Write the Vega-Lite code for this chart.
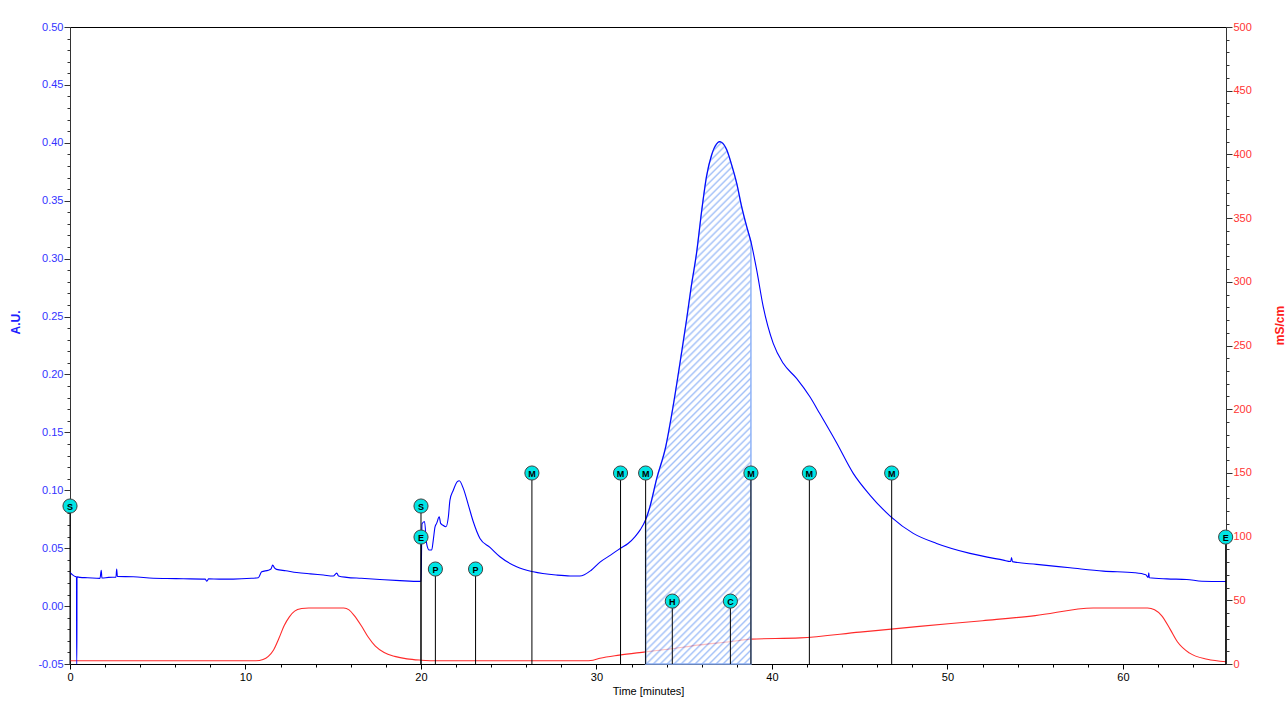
{
  "$schema": "https://vega.github.io/schema/vega-lite/v6.json",
  "width": 1156,
  "height": 637,
  "autosize": {"type": "none"},
  "padding": {"left": 70, "top": 27, "right": 59, "bottom": 40},
  "background": "#ffffff",
  "config": {"view": {"stroke": "#000000", "strokeWidth": 1}, "font": "Liberation Sans"},
  "datasets": {
    "blue": [
      {"t":0,"v":0.029},{"t":0.15,"v":0.027},{"t":0.3,"v":0.0255},{"t":0.37,"v":0.0253},{"t":0.38,"v":-0.05},{"t":0.39,"v":-0.05},{"t":0.4,"v":0.0252},
      {"t":0.57,"v":0.0248},{"t":1.0,"v":0.0245},{"t":1.71,"v":0.0239},{"t":1.78,"v":0.031},{"t":1.82,"v":0.0242},{"t":2.2,"v":0.0248},{"t":2.62,"v":0.025},
      {"t":2.66,"v":0.032},{"t":2.7,"v":0.0255},{"t":3.6,"v":0.0253},{"t":4.75,"v":0.024},{"t":5.5,"v":0.0238},{"t":6.46,"v":0.0236},{"t":7.7,"v":0.0233},
      {"t":7.8,"v":0.0215},{"t":7.9,"v":0.0235},{"t":8.5,"v":0.0233},{"t":9.3,"v":0.0233},{"t":10.35,"v":0.024},{"t":10.73,"v":0.0245},{"t":10.92,"v":0.0296},
      {"t":11.3,"v":0.031},{"t":11.45,"v":0.032},{"t":11.55,"v":0.0354},{"t":11.65,"v":0.033},{"t":11.77,"v":0.0317},{"t":12.3,"v":0.0305},{"t":12.92,"v":0.029},
      {"t":13.7,"v":0.0278},{"t":14.44,"v":0.0268},{"t":15.0,"v":0.026},{"t":15.2,"v":0.0285},{"t":15.3,"v":0.026},{"t":15.77,"v":0.0248},{"t":16.6,"v":0.024},
      {"t":17.66,"v":0.023},{"t":18.8,"v":0.022},{"t":19.94,"v":0.0213},{"t":20.0,"v":0.0214},{"t":20.06,"v":0.071},{"t":20.2,"v":0.073},{"t":20.32,"v":0.054},
      {"t":20.47,"v":0.0484},{"t":20.61,"v":0.0484},{"t":20.7,"v":0.057},{"t":20.8,"v":0.0685},{"t":20.89,"v":0.0714},{"t":21.04,"v":0.0771},{"t":21.12,"v":0.0714},
      {"t":21.23,"v":0.07},{"t":21.42,"v":0.0685},{"t":21.56,"v":0.0771},{"t":21.65,"v":0.0915},{"t":21.84,"v":0.1},{"t":22.07,"v":0.1074},{"t":22.18,"v":0.1082},
      {"t":22.41,"v":0.1016},{"t":22.7,"v":0.0872},{"t":22.98,"v":0.0728},{"t":23.36,"v":0.0584},{"t":23.93,"v":0.0507},{"t":24.5,"v":0.0426},{"t":25.45,"v":0.034},
      {"t":26.4,"v":0.0296},{"t":27.7,"v":0.0268},{"t":28.5,"v":0.026},{"t":29.05,"v":0.026},{"t":29.7,"v":0.031},{"t":30.2,"v":0.038},{"t":30.8,"v":0.044},
      {"t":31.37,"v":0.05},{"t":31.8,"v":0.054},{"t":32.2,"v":0.06},{"t":32.5,"v":0.066},{"t":32.8,"v":0.0745},{"t":33.05,"v":0.086},{"t":33.43,"v":0.11},
      {"t":33.95,"v":0.138},{"t":34.36,"v":0.172},{"t":34.84,"v":0.218},{"t":35.13,"v":0.247},{"t":35.4,"v":0.276},{"t":35.7,"v":0.3046},{"t":36.0,"v":0.342},
      {"t":36.27,"v":0.371},{"t":36.56,"v":0.3895},{"t":36.84,"v":0.399},{"t":37.0,"v":0.401},{"t":37.13,"v":0.4004},{"t":37.42,"v":0.394},{"t":37.7,"v":0.381},
      {"t":37.99,"v":0.365},{"t":38.27,"v":0.345},{"t":38.56,"v":0.3276},{"t":38.8,"v":0.3146},{"t":39.13,"v":0.29},{"t":39.5,"v":0.2585},{"t":40.07,"v":0.2268},
      {"t":40.64,"v":0.2096},{"t":41.4,"v":0.1966},{"t":42.16,"v":0.1807},{"t":42.73,"v":0.166},{"t":43.68,"v":0.141},{"t":44.63,"v":0.1146},{"t":45.58,"v":0.0959},
      {"t":46.78,"v":0.0771},{"t":48.05,"v":0.0628},{"t":49.38,"v":0.0541},{"t":51.28,"v":0.0455},{"t":53.18,"v":0.0397},{"t":53.6,"v":0.0385},{"t":53.65,"v":0.042},
      {"t":53.7,"v":0.0384},{"t":55.08,"v":0.036},{"t":56.98,"v":0.0331},{"t":58.88,"v":0.0302},{"t":60.68,"v":0.0288},{"t":61.3,"v":0.027},{"t":61.44,"v":0.0248},
      {"t":61.47,"v":0.0288},{"t":61.5,"v":0.0245},{"t":62.5,"v":0.0235},{"t":63.63,"v":0.023},{"t":64.5,"v":0.0215},{"t":65.87,"v":0.0212}
    ],
    "red": [
      {"t":0,"c":2.5},{"t":10.6,"c":2.5},{"t":11.0,"c":3.5},{"t":11.3,"c":6},{"t":11.6,"c":11},{"t":11.9,"c":20},{"t":12.2,"c":30},{"t":12.5,"c":37},{"t":12.8,"c":41.5},
      {"t":13.2,"c":43.5},{"t":13.6,"c":44},{"t":15.6,"c":44},{"t":15.9,"c":42.5},{"t":16.2,"c":38},{"t":16.6,"c":30},{"t":17.0,"c":21},{"t":17.4,"c":14},{"t":17.9,"c":9},
      {"t":18.5,"c":6},{"t":19.2,"c":4},{"t":20,"c":3},{"t":21,"c":2.5},{"t":29.3,"c":2.5},{"t":29.8,"c":3},{"t":30.2,"c":4.5},{"t":31.3,"c":7},{"t":32.8,"c":9.5},
      {"t":34.3,"c":12},{"t":35.9,"c":15},{"t":37.6,"c":17.5},{"t":38.8,"c":19.5},{"t":41.6,"c":20.5},{"t":45,"c":25},{"t":48.4,"c":29.5},{"t":52,"c":34},{"t":55,"c":38},
      {"t":58.3,"c":44},{"t":61.4,"c":44},{"t":61.8,"c":42.5},{"t":62.2,"c":38},{"t":62.7,"c":27},{"t":63.1,"c":17.5},{"t":63.8,"c":8.5},{"t":64.8,"c":3.7},{"t":65.87,"c":1.8}
    ],
    "marks": [
      {"t":0,"v":0.0864,"lab":"S"},{"t":20.0,"v":0.0864,"lab":"S"},{"t":20.0,"v":0.0596,"lab":"E"},{"t":20.82,"v":0.032,"lab":"P"},{"t":23.11,"v":0.032,"lab":"P"},
      {"t":26.32,"v":0.1149,"lab":"M"},{"t":31.37,"v":0.1149,"lab":"M"},{"t":32.8,"v":0.1149,"lab":"M"},{"t":38.8,"v":0.1149,"lab":"M"},{"t":42.13,"v":0.1149,"lab":"M"},
      {"t":46.82,"v":0.1149,"lab":"M"},{"t":34.32,"v":0.0043,"lab":"H"},{"t":37.63,"v":0.0043,"lab":"C"},{"t":65.85,"v":0.0596,"lab":"E"}
    ]
  },
  "encoding": {
    "x": {
      "field": "t", "type": "quantitative",
      "scale": {"domain": [0, 65.87], "nice": false, "zero": false},
      "axis": {
        "values": [0,2,4,6,8,10,12,14,16,18,20,22,24,26,28,30,32,34,36,38,40,42,44,46,48,50,52,54,56,58,60,62,64],
        "labelExpr": "datum.value % 10 == 0 ? format(datum.value, 'd') : ''",
        "tickSize": {"condition": {"test": "datum.value % 10 == 0", "value": 5}, "value": 3},
        "grid": false, "domainColor": "#000000", "tickColor": "#000000", "labelColor": "#000000",
        "labelFont": "Liberation Sans", "labelFontSize": 11, "labelPadding": 2, "labelOverlap": false, "labelFlush": false,
        "title": "Time [minutes]", "titleFont": "Liberation Sans", "titleFontSize": 11, "titleFontWeight": "normal", "titleColor": "#000000", "titlePadding": 3
      }
    }
  },
  "layer": [
    {
      "data": {"name": "red"},
      "mark": {"type": "line", "color": "#ff2a2a", "strokeWidth": 1.1, "interpolate": "monotone"},
      "encoding": {
        "y": {
          "field": "c", "type": "quantitative",
          "scale": {"domain": [0, 500], "nice": false, "zero": false},
          "axis": {
            "orient": "right",
            "values": [0,10,20,30,40,50,60,70,80,90,100,110,120,130,140,150,160,170,180,190,200,210,220,230,240,250,260,270,280,290,300,310,320,330,340,350,360,370,380,390,400,410,420,430,440,450,460,470,480,490,500],
            "labelExpr": "datum.value % 50 == 0 ? format(datum.value, 'd') : ''",
            "tickSize": {"condition": {"test": "datum.value % 50 == 0", "value": 6}, "value": 3},
            "grid": false, "domainColor": "#333333", "tickColor": "#333333", "labelColor": "#ff3333",
            "labelFont": "Liberation Sans", "labelFontSize": 11, "labelPadding": 1, "labelOverlap": false, "labelFlush": false,
            "title": "mS/cm", "titleColor": "#ff2020", "titleFont": "Liberation Sans", "titleFontSize": 12, "titleFontWeight": "bold",
            "titleAngle": 270, "titleX": 53, "titleY": 298, "titleAlign": "center", "titleBaseline": "middle"
          }
        }
      }
    },
    {
      "encoding": {
        "y": {
          "field": "v", "type": "quantitative",
          "scale": {"domain": [-0.05, 0.5], "nice": false, "zero": false},
          "axis": {
            "orient": "left",
            "values": [-0.05,-0.04,-0.03,-0.02,-0.01,0,0.01,0.02,0.03,0.04,0.05,0.06,0.07,0.08,0.09,0.1,0.11,0.12,0.13,0.14,0.15,0.16,0.17,0.18,0.19,0.2,0.21,0.22,0.23,0.24,0.25,0.26,0.27,0.28,0.29,0.3,0.31,0.32,0.33,0.34,0.35,0.36,0.37,0.38,0.39,0.4,0.41,0.42,0.43,0.44,0.45,0.46,0.47,0.48,0.49,0.5],
            "labelExpr": "abs(round(datum.value*100)) % 5 == 0 ? (datum.value < 0 ? '-' : '') + format(abs(datum.value), '.2f') : ''",
            "tickSize": {"condition": {"test": "abs(round(datum.value*100)) % 5 == 0", "value": 6}, "value": 3},
            "grid": false, "domainColor": "#333333", "tickColor": "#333333", "labelColor": "#3333ff",
            "labelFont": "Liberation Sans", "labelFontSize": 11, "labelPadding": 1, "labelOverlap": false, "labelFlush": false,
            "title": "A.U.", "titleColor": "#2020ff", "titleFont": "Liberation Sans", "titleFontSize": 12, "titleFontWeight": "bold",
            "titleAngle": 270, "titleX": -55, "titleY": 295, "titleAlign": "center", "titleBaseline": "middle"
          }
        }
      },
      "layer": [
        {
          "data": {"name": "blue"},
          "transform": [{"filter": "datum.t >= 32.8 && datum.t <= 38.8"}],
          "mark": {
            "type": "area", "interpolate": "monotone", "stroke": "#8fb3f7", "strokeWidth": 1.5, "fillOpacity": 0.7,
            "fill": {
              "gradient": "linear", "x1": 0, "y1": 0, "x2": 0.2587, "y2": 1.283,
              "stops": [
                {"offset":0,"color":"#7fa8f5"},{"offset":0.003,"color":"#ffffff"},{"offset":0.007,"color":"#ffffff"},
                {"offset":0.01,"color":"#7fa8f5"},{"offset":0.013,"color":"#ffffff"},{"offset":0.017,"color":"#ffffff"},
                {"offset":0.02,"color":"#7fa8f5"},{"offset":0.023,"color":"#ffffff"},{"offset":0.027,"color":"#ffffff"},
                {"offset":0.03,"color":"#7fa8f5"},{"offset":0.033,"color":"#ffffff"},{"offset":0.037,"color":"#ffffff"},
                {"offset":0.04,"color":"#7fa8f5"},{"offset":0.043,"color":"#ffffff"},{"offset":0.047,"color":"#ffffff"},
                {"offset":0.05,"color":"#7fa8f5"},{"offset":0.053,"color":"#ffffff"},{"offset":0.057,"color":"#ffffff"},
                {"offset":0.06,"color":"#7fa8f5"},{"offset":0.063,"color":"#ffffff"},{"offset":0.067,"color":"#ffffff"},
                {"offset":0.07,"color":"#7fa8f5"},{"offset":0.073,"color":"#ffffff"},{"offset":0.077,"color":"#ffffff"},
                {"offset":0.08,"color":"#7fa8f5"},{"offset":0.083,"color":"#ffffff"},{"offset":0.087,"color":"#ffffff"},
                {"offset":0.09,"color":"#7fa8f5"},{"offset":0.093,"color":"#ffffff"},{"offset":0.097,"color":"#ffffff"},
                {"offset":0.1,"color":"#7fa8f5"},{"offset":0.103,"color":"#ffffff"},{"offset":0.107,"color":"#ffffff"},
                {"offset":0.11,"color":"#7fa8f5"},{"offset":0.113,"color":"#ffffff"},{"offset":0.117,"color":"#ffffff"},
                {"offset":0.12,"color":"#7fa8f5"},{"offset":0.123,"color":"#ffffff"},{"offset":0.127,"color":"#ffffff"},
                {"offset":0.13,"color":"#7fa8f5"},{"offset":0.133,"color":"#ffffff"},{"offset":0.137,"color":"#ffffff"},
                {"offset":0.14,"color":"#7fa8f5"},{"offset":0.143,"color":"#ffffff"},{"offset":0.147,"color":"#ffffff"},
                {"offset":0.15,"color":"#7fa8f5"},{"offset":0.153,"color":"#ffffff"},{"offset":0.157,"color":"#ffffff"},
                {"offset":0.16,"color":"#7fa8f5"},{"offset":0.163,"color":"#ffffff"},{"offset":0.167,"color":"#ffffff"},
                {"offset":0.17,"color":"#7fa8f5"},{"offset":0.173,"color":"#ffffff"},{"offset":0.177,"color":"#ffffff"},
                {"offset":0.18,"color":"#7fa8f5"},{"offset":0.183,"color":"#ffffff"},{"offset":0.187,"color":"#ffffff"},
                {"offset":0.19,"color":"#7fa8f5"},{"offset":0.193,"color":"#ffffff"},{"offset":0.197,"color":"#ffffff"},
                {"offset":0.2,"color":"#7fa8f5"},{"offset":0.203,"color":"#ffffff"},{"offset":0.207,"color":"#ffffff"},
                {"offset":0.21,"color":"#7fa8f5"},{"offset":0.213,"color":"#ffffff"},{"offset":0.217,"color":"#ffffff"},
                {"offset":0.22,"color":"#7fa8f5"},{"offset":0.223,"color":"#ffffff"},{"offset":0.227,"color":"#ffffff"},
                {"offset":0.23,"color":"#7fa8f5"},{"offset":0.233,"color":"#ffffff"},{"offset":0.237,"color":"#ffffff"},
                {"offset":0.24,"color":"#7fa8f5"},{"offset":0.243,"color":"#ffffff"},{"offset":0.247,"color":"#ffffff"},
                {"offset":0.25,"color":"#7fa8f5"},{"offset":0.253,"color":"#ffffff"},{"offset":0.257,"color":"#ffffff"},
                {"offset":0.26,"color":"#7fa8f5"},{"offset":0.263,"color":"#ffffff"},{"offset":0.267,"color":"#ffffff"},
                {"offset":0.27,"color":"#7fa8f5"},{"offset":0.273,"color":"#ffffff"},{"offset":0.277,"color":"#ffffff"},
                {"offset":0.28,"color":"#7fa8f5"},{"offset":0.283,"color":"#ffffff"},{"offset":0.287,"color":"#ffffff"},
                {"offset":0.29,"color":"#7fa8f5"},{"offset":0.293,"color":"#ffffff"},{"offset":0.297,"color":"#ffffff"},
                {"offset":0.3,"color":"#7fa8f5"},{"offset":0.303,"color":"#ffffff"},{"offset":0.307,"color":"#ffffff"},
                {"offset":0.31,"color":"#7fa8f5"},{"offset":0.313,"color":"#ffffff"},{"offset":0.317,"color":"#ffffff"},
                {"offset":0.32,"color":"#7fa8f5"},{"offset":0.323,"color":"#ffffff"},{"offset":0.327,"color":"#ffffff"},
                {"offset":0.33,"color":"#7fa8f5"},{"offset":0.333,"color":"#ffffff"},{"offset":0.337,"color":"#ffffff"},
                {"offset":0.34,"color":"#7fa8f5"},{"offset":0.343,"color":"#ffffff"},{"offset":0.347,"color":"#ffffff"},
                {"offset":0.35,"color":"#7fa8f5"},{"offset":0.353,"color":"#ffffff"},{"offset":0.357,"color":"#ffffff"},
                {"offset":0.36,"color":"#7fa8f5"},{"offset":0.363,"color":"#ffffff"},{"offset":0.367,"color":"#ffffff"},
                {"offset":0.37,"color":"#7fa8f5"},{"offset":0.373,"color":"#ffffff"},{"offset":0.377,"color":"#ffffff"},
                {"offset":0.38,"color":"#7fa8f5"},{"offset":0.383,"color":"#ffffff"},{"offset":0.387,"color":"#ffffff"},
                {"offset":0.39,"color":"#7fa8f5"},{"offset":0.393,"color":"#ffffff"},{"offset":0.397,"color":"#ffffff"},
                {"offset":0.4,"color":"#7fa8f5"},{"offset":0.403,"color":"#ffffff"},{"offset":0.407,"color":"#ffffff"},
                {"offset":0.41,"color":"#7fa8f5"},{"offset":0.413,"color":"#ffffff"},{"offset":0.417,"color":"#ffffff"},
                {"offset":0.42,"color":"#7fa8f5"},{"offset":0.423,"color":"#ffffff"},{"offset":0.427,"color":"#ffffff"},
                {"offset":0.43,"color":"#7fa8f5"},{"offset":0.433,"color":"#ffffff"},{"offset":0.437,"color":"#ffffff"},
                {"offset":0.44,"color":"#7fa8f5"},{"offset":0.443,"color":"#ffffff"},{"offset":0.447,"color":"#ffffff"},
                {"offset":0.45,"color":"#7fa8f5"},{"offset":0.453,"color":"#ffffff"},{"offset":0.457,"color":"#ffffff"},
                {"offset":0.46,"color":"#7fa8f5"},{"offset":0.463,"color":"#ffffff"},{"offset":0.467,"color":"#ffffff"},
                {"offset":0.47,"color":"#7fa8f5"},{"offset":0.473,"color":"#ffffff"},{"offset":0.477,"color":"#ffffff"},
                {"offset":0.48,"color":"#7fa8f5"},{"offset":0.483,"color":"#ffffff"},{"offset":0.487,"color":"#ffffff"},
                {"offset":0.49,"color":"#7fa8f5"},{"offset":0.493,"color":"#ffffff"},{"offset":0.497,"color":"#ffffff"},
                {"offset":0.5,"color":"#7fa8f5"},{"offset":0.503,"color":"#ffffff"},{"offset":0.507,"color":"#ffffff"},
                {"offset":0.51,"color":"#7fa8f5"},{"offset":0.513,"color":"#ffffff"},{"offset":0.517,"color":"#ffffff"},
                {"offset":0.52,"color":"#7fa8f5"},{"offset":0.523,"color":"#ffffff"},{"offset":0.527,"color":"#ffffff"},
                {"offset":0.53,"color":"#7fa8f5"},{"offset":0.533,"color":"#ffffff"},{"offset":0.537,"color":"#ffffff"},
                {"offset":0.54,"color":"#7fa8f5"},{"offset":0.543,"color":"#ffffff"},{"offset":0.547,"color":"#ffffff"},
                {"offset":0.55,"color":"#7fa8f5"},{"offset":0.553,"color":"#ffffff"},{"offset":0.557,"color":"#ffffff"},
                {"offset":0.56,"color":"#7fa8f5"},{"offset":0.563,"color":"#ffffff"},{"offset":0.567,"color":"#ffffff"},
                {"offset":0.57,"color":"#7fa8f5"},{"offset":0.573,"color":"#ffffff"},{"offset":0.577,"color":"#ffffff"},
                {"offset":0.58,"color":"#7fa8f5"},{"offset":0.583,"color":"#ffffff"},{"offset":0.587,"color":"#ffffff"},
                {"offset":0.59,"color":"#7fa8f5"},{"offset":0.593,"color":"#ffffff"},{"offset":0.597,"color":"#ffffff"},
                {"offset":0.6,"color":"#7fa8f5"},{"offset":0.603,"color":"#ffffff"},{"offset":0.607,"color":"#ffffff"},
                {"offset":0.61,"color":"#7fa8f5"},{"offset":0.613,"color":"#ffffff"},{"offset":0.617,"color":"#ffffff"},
                {"offset":0.62,"color":"#7fa8f5"},{"offset":0.623,"color":"#ffffff"},{"offset":0.627,"color":"#ffffff"},
                {"offset":0.63,"color":"#7fa8f5"},{"offset":0.633,"color":"#ffffff"},{"offset":0.637,"color":"#ffffff"},
                {"offset":0.64,"color":"#7fa8f5"},{"offset":0.643,"color":"#ffffff"},{"offset":0.647,"color":"#ffffff"},
                {"offset":0.65,"color":"#7fa8f5"},{"offset":0.653,"color":"#ffffff"},{"offset":0.657,"color":"#ffffff"},
                {"offset":0.66,"color":"#7fa8f5"},{"offset":0.663,"color":"#ffffff"},{"offset":0.667,"color":"#ffffff"},
                {"offset":0.67,"color":"#7fa8f5"},{"offset":0.673,"color":"#ffffff"},{"offset":0.677,"color":"#ffffff"},
                {"offset":0.68,"color":"#7fa8f5"},{"offset":0.683,"color":"#ffffff"},{"offset":0.687,"color":"#ffffff"},
                {"offset":0.69,"color":"#7fa8f5"},{"offset":0.693,"color":"#ffffff"},{"offset":0.697,"color":"#ffffff"},
                {"offset":0.7,"color":"#7fa8f5"},{"offset":0.703,"color":"#ffffff"},{"offset":0.707,"color":"#ffffff"},
                {"offset":0.71,"color":"#7fa8f5"},{"offset":0.713,"color":"#ffffff"},{"offset":0.717,"color":"#ffffff"},
                {"offset":0.72,"color":"#7fa8f5"},{"offset":0.723,"color":"#ffffff"},{"offset":0.727,"color":"#ffffff"},
                {"offset":0.73,"color":"#7fa8f5"},{"offset":0.733,"color":"#ffffff"},{"offset":0.737,"color":"#ffffff"},
                {"offset":0.74,"color":"#7fa8f5"},{"offset":0.743,"color":"#ffffff"},{"offset":0.747,"color":"#ffffff"},
                {"offset":0.75,"color":"#7fa8f5"},{"offset":0.753,"color":"#ffffff"},{"offset":0.757,"color":"#ffffff"},
                {"offset":0.76,"color":"#7fa8f5"},{"offset":0.763,"color":"#ffffff"},{"offset":0.767,"color":"#ffffff"},
                {"offset":0.77,"color":"#7fa8f5"},{"offset":0.773,"color":"#ffffff"},{"offset":0.777,"color":"#ffffff"},
                {"offset":0.78,"color":"#7fa8f5"},{"offset":0.783,"color":"#ffffff"},{"offset":0.787,"color":"#ffffff"},
                {"offset":0.79,"color":"#7fa8f5"},{"offset":0.793,"color":"#ffffff"},{"offset":0.797,"color":"#ffffff"},
                {"offset":0.8,"color":"#7fa8f5"},{"offset":0.803,"color":"#ffffff"},{"offset":0.807,"color":"#ffffff"},
                {"offset":0.81,"color":"#7fa8f5"},{"offset":0.813,"color":"#ffffff"},{"offset":0.817,"color":"#ffffff"},
                {"offset":0.82,"color":"#7fa8f5"},{"offset":0.823,"color":"#ffffff"},{"offset":0.827,"color":"#ffffff"},
                {"offset":0.83,"color":"#7fa8f5"},{"offset":0.833,"color":"#ffffff"},{"offset":0.837,"color":"#ffffff"},
                {"offset":0.84,"color":"#7fa8f5"},{"offset":0.843,"color":"#ffffff"},{"offset":0.847,"color":"#ffffff"},
                {"offset":0.85,"color":"#7fa8f5"},{"offset":0.853,"color":"#ffffff"},{"offset":0.857,"color":"#ffffff"},
                {"offset":0.86,"color":"#7fa8f5"},{"offset":0.863,"color":"#ffffff"},{"offset":0.867,"color":"#ffffff"},
                {"offset":0.87,"color":"#7fa8f5"},{"offset":0.873,"color":"#ffffff"},{"offset":0.877,"color":"#ffffff"},
                {"offset":0.88,"color":"#7fa8f5"},{"offset":0.883,"color":"#ffffff"},{"offset":0.887,"color":"#ffffff"},
                {"offset":0.89,"color":"#7fa8f5"},{"offset":0.893,"color":"#ffffff"},{"offset":0.897,"color":"#ffffff"},
                {"offset":0.9,"color":"#7fa8f5"},{"offset":0.903,"color":"#ffffff"},{"offset":0.907,"color":"#ffffff"},
                {"offset":0.91,"color":"#7fa8f5"},{"offset":0.913,"color":"#ffffff"},{"offset":1,"color":"#ffffff"}
              ]
            }
          },
          "encoding": {"y2": {"datum": -0.05}}
        },
        {
          "data": {"name": "blue"},
          "mark": {"type": "line", "color": "#0000ff", "strokeWidth": 1.1, "interpolate": "monotone"}
        },
        {
          "data": {"name": "marks"},
          "mark": {"type": "rule", "color": "#000000", "strokeWidth": 1},
          "encoding": {"y2": {"datum": -0.05}}
        },
        {
          "data": {"name": "marks"},
          "mark": {"type": "point", "shape": "circle", "filled": true, "fill": "#00e5e5", "stroke": "#404040", "strokeWidth": 1, "size": 200, "opacity": 1}
        },
        {
          "data": {"name": "marks"},
          "mark": {"type": "text", "font": "Liberation Sans", "fontSize": 9, "fontWeight": "bold", "color": "#000000", "align": "center", "baseline": "middle", "dy": 0.5},
          "encoding": {"text": {"field": "lab", "type": "nominal"}}
        }
      ]
    }
  ],
  "resolve": {"scale": {"y": "independent"}}
}
